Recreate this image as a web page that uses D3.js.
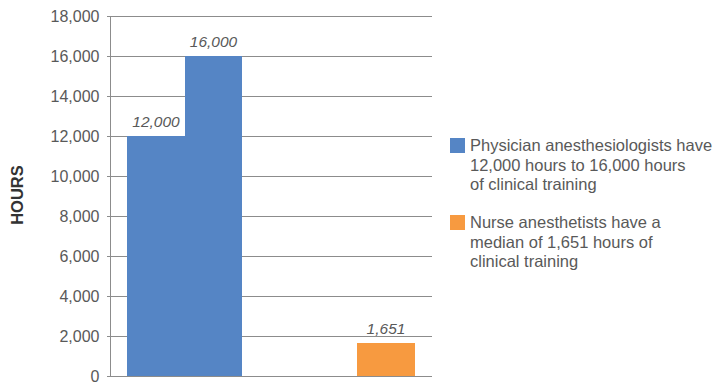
<!DOCTYPE html>
<meta charset="utf-8">
<style>
body { margin: 0; background: #fff; }
svg text { font-family: "Liberation Sans", Arial, sans-serif; }
.axis text { fill: #595959; font-size: 16px; }
.axis path, .axis line { stroke: #8c8c8c; }
.grid line { stroke: #8c8c8c; }
rect.bar { shape-rendering: crispEdges; }
.val { fill: #595959; font-size: 15.5px; font-style: italic; }
.legend text { fill: #595959; font-size: 16.5px; }
</style>
<body>
<script src="https://d3js.org/d3.v7.min.js"></script>
<script>
// bar slots (two empty slots sit between the groups)
var slots = ["phys_low", "phys_high", "gap_a", "gap_b", "nurse"];
var hours = [12000, 16000, null, null, 1651];
var slotColor = ["#5585c5", "#5585c5", null, null, "#f79a40"];
var yTicks = [0, 2000, 4000, 6000, 8000, 10000, 12000, 14000, 16000, 18000];

var legendColors = ["#5585c5", "#f79a40"];
var legendLines = [
  ["Physician anesthesiologists have", "12,000 hours to 16,000 hours", "of clinical training"],
  ["Nurse anesthetists have a", "median of 1,651 hours of", "clinical training"]
];

var width = 717, height = 385;
var margin = {top: 16, left: 110, right: 285, bottom: 9};

var svg = d3.select("body").append("svg")
    .attr("width", width)
    .attr("height", height);

var x = d3.scaleBand()
    .domain(slots)
    .range([margin.left, width - margin.right])
    .paddingInner(0)
    .paddingOuter(0.3);

var y = d3.scaleLinear()
    .domain([0, 18000])
    .range([height - margin.bottom, margin.top]);

// gridlines
svg.append("g")
    .attr("class", "grid")
  .selectAll("line")
  .data(yTicks)
  .enter().append("line")
    .attr("x1", margin.left - 3)
    .attr("x2", width - margin.right)
    .attr("y1", function(d) { return Math.round(y(d)) + 0.5; })
    .attr("y2", function(d) { return Math.round(y(d)) + 0.5; });

var data = slots.map(function(s, i) {
  return {slot: s, value: hours[i], color: slotColor[i]};
}).filter(function(d) { return d.value != null; });

svg.selectAll("rect.bar")
  .data(data)
  .enter().append("rect")
    .attr("class", "bar")
    .attr("x", function(d) { return Math.round(x(d.slot)); })
    .attr("width", function(d) { return Math.round(x(d.slot) + x.bandwidth()) - Math.round(x(d.slot)); })
    .attr("y", function(d) { return y(d.value); })
    .attr("height", function(d) { return y(0) - y(d.value); })
    .attr("fill", function(d) { return d.color; });

svg.selectAll("text.val")
  .data(data)
  .enter().append("text")
    .attr("class", "val")
    .attr("x", function(d) { return x(d.slot) + x.bandwidth() / 2; })
    .attr("y", function(d) { return y(d.value) - 9; })
    .attr("text-anchor", "middle")
    .text(function(d) { return d3.format(",")(d.value); });

// y axis
var yAxis = svg.append("g")
    .attr("class", "axis")
    .attr("transform", "translate(" + (margin.left + 0.5) + ",0)")
    .call(d3.axisLeft(y).tickValues(yTicks).tickSize(3).tickPadding(8).tickFormat(d3.format(",")));
yAxis.select(".domain").attr("d", "M0," + (margin.top) + "V" + (y(0)));

svg.append("text")
    .attr("transform", "translate(23," + (y(9000) - 1) + ") rotate(-90)")
    .attr("text-anchor", "middle")
    .attr("fill", "#333")
    .attr("font-weight", "bold")
    .attr("font-size", "16.5px")
    .text("HOURS");

// legend
var lg = svg.append("g").attr("class", "legend");
legendLines.forEach(function(lines, i) {
  var top = 138 + i * 77;
  lg.append("rect")
      .attr("x", 450).attr("y", top)
      .attr("width", 15).attr("height", 15)
      .attr("fill", legendColors[i]);
  lg.append("text")
      .attr("x", 470).attr("y", top + 13)
    .selectAll("tspan")
    .data(lines)
    .enter().append("tspan")
      .attr("x", 470)
      .attr("dy", function(d, j) { return j === 0 ? 0 : 19.5; })
      .text(function(d) { return d; });
});
</script>
</body>
